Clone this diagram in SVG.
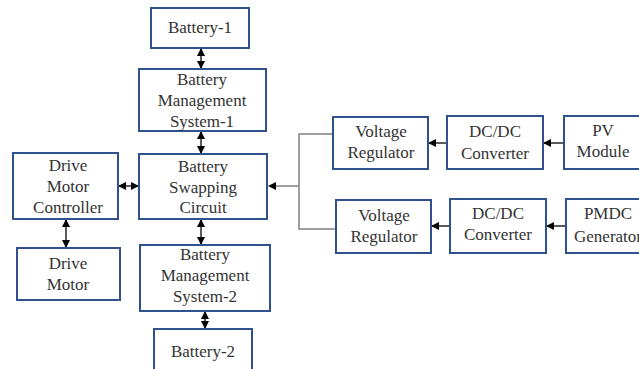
<svg xmlns="http://www.w3.org/2000/svg" width="639" height="369" viewBox="0 0 639 369">
<style>
.box{fill:#fff;stroke:#2F528F;stroke-width:2}
.t{font-family:"Liberation Serif","Times New Roman",serif;font-size:17px;fill:#333;text-anchor:middle}
.c{stroke:#000;stroke-width:1.3;fill:none}
.g{stroke:#808080;stroke-width:1.5;fill:none}
</style>
<defs>
<marker id="ah" markerWidth="8" markerHeight="8" refX="7" refY="4" orient="auto-start-reverse" markerUnits="userSpaceOnUse">
<path d="M0,0 L8,4 L0,8 Z" fill="#000"/>
</marker>
</defs>
<rect width="639" height="369" fill="#fff"/>
<g id="connectors">
<line class="c" x1="201" y1="49" x2="201" y2="68" marker-start="url(#ah)" marker-end="url(#ah)"/>
<line class="c" x1="201" y1="132" x2="201" y2="153" marker-start="url(#ah)" marker-end="url(#ah)"/>
<line class="c" x1="119" y1="186" x2="138" y2="186" marker-start="url(#ah)" marker-end="url(#ah)"/>
<line class="c" x1="66" y1="220" x2="66" y2="247" marker-start="url(#ah)" marker-end="url(#ah)"/>
<line class="c" x1="201" y1="220" x2="201" y2="244" marker-start="url(#ah)" marker-end="url(#ah)"/>
<line class="c" x1="205" y1="312" x2="205" y2="328" marker-start="url(#ah)" marker-end="url(#ah)"/>
<polyline class="g" points="333,134 299,134 299,229 336,229"/>
<line class="g" x1="299" y1="186" x2="275" y2="186"/>
<path d="M268,186 L276,182 L276,190 Z" fill="#000"/>
<line class="c" x1="447" y1="143" x2="429" y2="143" marker-end="url(#ah)"/>
<line class="c" x1="564" y1="143" x2="544" y2="143" marker-end="url(#ah)"/>
<line class="c" x1="450" y1="226" x2="432" y2="226" marker-end="url(#ah)"/>
<line class="c" x1="566" y1="226" x2="547" y2="226" marker-end="url(#ah)"/>
</g>
<g id="battery1"><rect class="box" x="151" y="8" width="98" height="40"/><text class="t" x="200" y="33">Battery-1</text></g>
<g id="bms1"><rect class="box" x="139" y="69" width="127" height="62"/><text class="t" x="202" y="85">Battery</text><text class="t" x="202" y="106">Management</text><text class="t" x="202" y="127">System-1</text></g>
<g id="dmc"><rect class="box" x="13" y="153" width="105" height="66"/><text class="t" x="68" y="171">Drive</text><text class="t" x="68" y="192">Motor</text><text class="t" x="68" y="213">Controller</text></g>
<g id="bsc"><rect class="box" x="139" y="154" width="128" height="65"/><text class="t" x="203" y="172">Battery</text><text class="t" x="203" y="193">Swapping</text><text class="t" x="203" y="213">Circuit</text></g>
<g id="dm"><rect class="box" x="17" y="248" width="103" height="52"/><text class="t" x="68" y="269">Drive</text><text class="t" x="68" y="290">Motor</text></g>
<g id="bms2"><rect class="box" x="140" y="245" width="130" height="66"/><text class="t" x="205" y="260">Battery</text><text class="t" x="205" y="281">Management</text><text class="t" x="205" y="302">System-2</text></g>
<g id="battery2"><rect class="box" x="154" y="329" width="98" height="45"/><text class="t" x="203" y="357">Battery-2</text></g>
<g id="vr1"><rect class="box" x="333" y="117" width="95" height="52"/><text class="t" x="381" y="137">Voltage</text><text class="t" x="381" y="158">Regulator</text></g>
<g id="dcdc1"><rect class="box" x="447" y="116" width="96" height="53"/><text class="t" x="495" y="137">DC/DC</text><text class="t" x="495" y="159">Converter</text></g>
<g id="pv"><rect class="box" x="564" y="116" width="80" height="53"/><text class="t" x="603" y="136">PV</text><text class="t" x="603" y="157">Module</text></g>
<g id="vr2"><rect class="box" x="336" y="200" width="95" height="53"/><text class="t" x="384" y="221">Voltage</text><text class="t" x="384" y="242">Regulator</text></g>
<g id="dcdc2"><rect class="box" x="450" y="199" width="96" height="54"/><text class="t" x="498" y="219">DC/DC</text><text class="t" x="498" y="240">Converter</text></g>
<g id="pmdc"><rect class="box" x="566" y="199" width="80" height="54"/><text class="t" x="608" y="219">PMDC</text><text class="t" x="608" y="242">Generator</text></g>
</svg>
